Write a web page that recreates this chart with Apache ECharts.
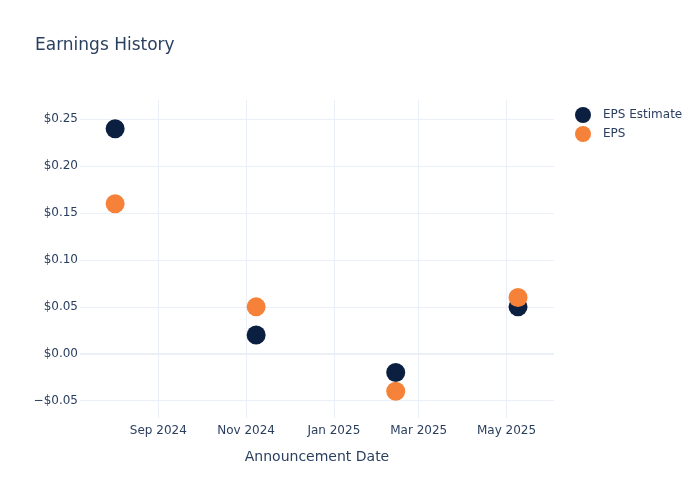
<!DOCTYPE html>
<html>
<head>
<meta charset="utf-8">
<script src="https://cdn.jsdelivr.net/npm/echarts@6/dist/echarts.min.js"></script>
<style>html,body{margin:0;padding:0;background:#fff}#c{width:700px;height:500px}</style>
</head>
<body>
<div id="c"></div>
<script>
const dates = ['2024-08-02', '2024-11-08', '2025-02-13', '2025-05-09'];
const epsEstimate = [0.24, 0.02, -0.02, 0.05];
const eps = [0.16, 0.05, -0.04, 0.06];
const xRange = ['2024-07-08T14:00:00', '2025-06-03T00:00:00'];
const yRange = [-0.0685, 0.2706];

const FONT = 'DejaVu Sans';
const TXT = '#2a3f5f';
const GRID = '#EBF0F8';
const MONTHS = ['Jan','Feb','Mar','Apr','May','Jun','Jul','Aug','Sep','Oct','Nov','Dec'];
const DAY = 86400000;

const chart = echarts.init(document.getElementById('c'));
chart.setOption({
  animation: false,
  backgroundColor: '#fff',
  textStyle: { fontFamily: FONT },
  title: {
    text: 'Earnings History',
    left: 30, top: 32,
    textStyle: { fontFamily: FONT, fontSize: 17, fontWeight: 'normal', color: TXT }
  },
  legend: {
    left: 570, top: 102, orient: 'vertical',
    itemWidth: 16, itemHeight: 16, itemGap: 3,
    icon: 'circle',
    textStyle: { fontFamily: FONT, fontSize: 12, color: TXT, padding: [0, 0, 0, 7] },
    data: ['EPS Estimate', 'EPS']
  },
  grid: { left: 80, right: 146, top: 100, bottom: 82, containLabel: false },
  xAxis: {
    type: 'time',
    min: xRange[0], max: xRange[1],
    minInterval: 61 * DAY, maxInterval: 62 * DAY,
    name: 'Announcement Date', nameLocation: 'middle', nameGap: 32,
    nameTextStyle: { fontFamily: FONT, fontSize: 14, color: TXT },
    axisLine: { show: false }, axisTick: { show: false },
    splitLine: { show: true, showMinLine: false, showMaxLine: false, lineStyle: { color: GRID, width: 1 } },
    axisLabel: {
      fontFamily: FONT, fontSize: 12, color: TXT, margin: 7,
      showMinLabel: false, showMaxLabel: false, hideOverlap: false,
      formatter: function (v) { const d = new Date(v); return MONTHS[d.getMonth()] + ' ' + d.getFullYear(); }
    }
  },
  yAxis: {
    type: 'value',
    min: yRange[0], max: yRange[1],
    axisLine: { show: false }, axisTick: { show: false },
    splitLine: { show: true, showMinLine: false, showMaxLine: false, lineStyle: { color: GRID, width: 1 } },
    axisLabel: {
      fontFamily: FONT, fontSize: 12, color: TXT, margin: 2,
      showMinLabel: false, showMaxLabel: false,
      formatter: function (v) { return (v < -1e-9 ? '\u2212' : '') + '$' + Math.abs(v).toFixed(2); }
    }
  },
  series: [
    {
      name: 'EPS Estimate', type: 'scatter', symbolSize: 19,
      itemStyle: { color: '#0b1f41', opacity: 1 },
      data: dates.map((d, i) => [d, epsEstimate[i]]),
      markLine: {
        silent: true, symbol: 'none', label: { show: false },
        lineStyle: { color: GRID, width: 2, type: 'solid' },
        data: [{ yAxis: 0 }]
      },
      z: 2
    },
    {
      name: 'EPS', type: 'scatter', symbolSize: 19,
      itemStyle: { color: '#f6823a', opacity: 1 },
      data: dates.map((d, i) => [d, eps[i]]),
      z: 3
    }
  ]
});
</script>
</body>
</html>
